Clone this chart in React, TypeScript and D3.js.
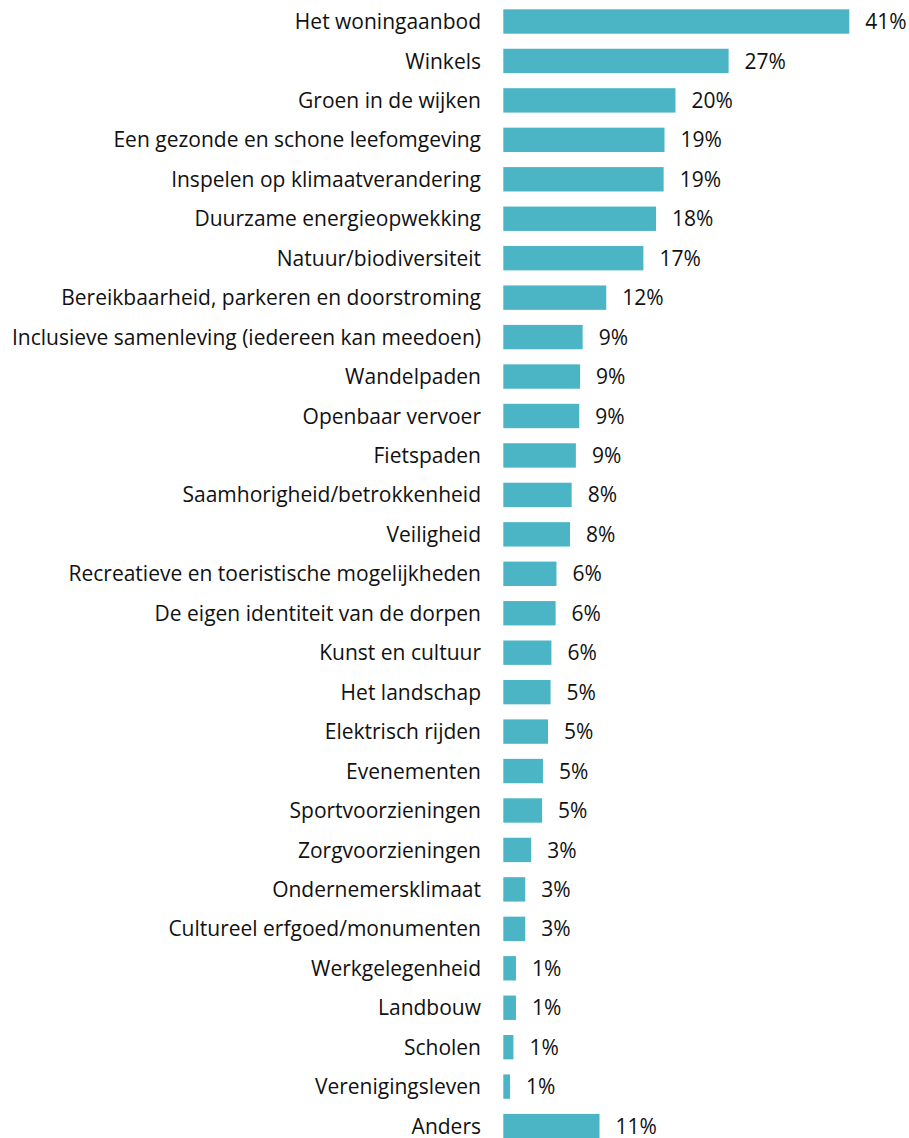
import React from "react";
import * as d3 from "d3";

const categories = [
  "Het woningaanbod",
  "Winkels",
  "Groen in de wijken",
  "Een gezonde en schone leefomgeving",
  "Inspelen op klimaatverandering",
  "Duurzame energieopwekking",
  "Natuur/biodiversiteit",
  "Bereikbaarheid, parkeren en doorstroming",
  "Inclusieve samenleving (iedereen kan meedoen)",
  "Wandelpaden",
  "Openbaar vervoer",
  "Fietspaden",
  "Saamhorigheid/betrokkenheid",
  "Veiligheid",
  "Recreatieve en toeristische mogelijkheden",
  "De eigen identiteit van de dorpen",
  "Kunst en cultuur",
  "Het landschap",
  "Elektrisch rijden",
  "Evenementen",
  "Sportvoorzieningen",
  "Zorgvoorzieningen",
  "Ondernemersklimaat",
  "Cultureel erfgoed/monumenten",
  "Werkgelegenheid",
  "Landbouw",
  "Scholen",
  "Verenigingsleven",
  "Anders",
];

const values = [
  41.0, 26.7, 20.4, 19.1, 19.0, 18.1, 16.6, 12.2, 9.4, 9.1, 9.0, 8.6, 8.1, 7.9,
  6.3, 6.2, 5.7, 5.6, 5.3, 4.7, 4.6, 3.3, 2.6, 2.6, 1.5, 1.5, 1.2, 0.8, 11.4,
];

const labels = [
  "41%", "27%", "20%", "19%", "19%", "18%", "17%", "12%", "9%", "9%", "9%",
  "9%", "8%", "8%", "6%", "6%", "6%", "5%", "5%", "5%", "5%", "3%", "3%",
  "3%", "1%", "1%", "1%", "1%", "11%",
];

const W = 909;
const H = 1138;
const FONT = "'Open Sans', sans-serif";

export default function App() {
  const x0 = 503.3;
  const x = d3.scaleLinear().domain([0, 41]).range([x0, 849.3]);
  const step = 39.45;
  const p = 0.382;
  const yStart = 9.3 - (step * p) / 2;
  const y = d3
    .scaleBand<string>()
    .domain(categories)
    .range([yStart, yStart + step * categories.length])
    .paddingInner(p)
    .paddingOuter(p / 2);

  return (
    <svg
      width={W}
      height={H}
      style={{ position: "absolute", left: 0, top: 0, background: "#fff" }}
      fontFamily={FONT}
    >
      {categories.map((c, i) => {
        const yy = y(c)!;
        const bw = y.bandwidth();
        return (
          <g key={c}>
            <rect
              x={x(0)}
              y={yy}
              width={x(values[i]) - x(0)}
              height={bw}
              fill="#4BB5C5"
            />
            <text
              x={481}
              y={yy + bw / 2}
              dy="0.36em"
              textAnchor="end"
              fontSize={21}
              fill="#111"
            >
              {c}
            </text>
            <text
              x={x(values[i]) + 16}
              y={yy + bw / 2}
              dy="0.36em"
              textAnchor="start"
              fontSize={21}
              fill="#111"
            >
              {labels[i]}
            </text>
          </g>
        );
      })}
    </svg>
  );
}
